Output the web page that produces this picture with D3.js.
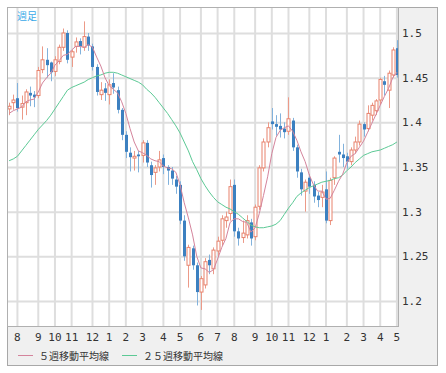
<!DOCTYPE html>
<html>
<head>
<meta charset="utf-8">
<script src="https://cdn.jsdelivr.net/npm/d3@7"></script>
<style>
  body { margin: 0; background: #fff; }
  text { font-family: "DejaVu Sans Mono", monospace; }
</style>
</head>
<body>
<div id="chart"></div>
<script>
// weekly candles
const opens = [
  1.415, 1.422, 1.427, 1.417, 1.422, 1.433, 1.431, 1.430, 1.459, 1.470,
  1.467, 1.457, 1.468, 1.484, 1.500, 1.473, 1.485, 1.491, 1.484, 1.496,
  1.485, 1.462, 1.431, 1.438, 1.431, 1.444, 1.436, 1.414, 1.386, 1.366,
  1.360, 1.364, 1.363, 1.377, 1.352, 1.344, 1.350, 1.360, 1.350, 1.346,
  1.336, 1.330, 1.290, 1.240, 1.259, 1.240, 1.210, 1.218, 1.246, 1.236,
  1.256, 1.268, 1.290, 1.298, 1.330, 1.278, 1.271, 1.274, 1.288, 1.272,
  1.306, 1.349, 1.378, 1.401, 1.398, 1.396, 1.393, 1.390, 1.402, 1.372,
  1.344, 1.323, 1.338, 1.330, 1.318, 1.316, 1.325, 1.290, 1.338, 1.367,
  1.364, 1.362, 1.356, 1.369, 1.378, 1.398, 1.393, 1.408, 1.413, 1.425,
  1.446, 1.436, 1.453, 1.483
];
const highs = [
  1.422, 1.431, 1.444, 1.430, 1.437, 1.440, 1.435, 1.462, 1.485, 1.483,
  1.468, 1.474, 1.487, 1.505, 1.503, 1.481, 1.495, 1.494, 1.513, 1.500,
  1.488, 1.465, 1.445, 1.444, 1.448, 1.455, 1.440, 1.416, 1.390, 1.372,
  1.368, 1.368, 1.380, 1.380, 1.356, 1.352, 1.368, 1.364, 1.352, 1.350,
  1.340, 1.334, 1.296, 1.263, 1.262, 1.243, 1.228, 1.248, 1.252, 1.260,
  1.272, 1.296, 1.300, 1.336, 1.336, 1.282, 1.290, 1.296, 1.292, 1.308,
  1.352, 1.382, 1.400, 1.416, 1.408, 1.410, 1.400, 1.428, 1.405, 1.375,
  1.348, 1.336, 1.342, 1.334, 1.322, 1.330, 1.345, 1.338, 1.362, 1.386,
  1.376, 1.366, 1.372, 1.384, 1.402, 1.400, 1.419, 1.422, 1.426, 1.450,
  1.452, 1.458, 1.484, 1.492
];
const lows = [
  1.408, 1.414, 1.412, 1.403, 1.408, 1.418, 1.417, 1.427, 1.455, 1.450,
  1.446, 1.452, 1.465, 1.480, 1.466, 1.462, 1.478, 1.476, 1.480, 1.480,
  1.458, 1.430, 1.425, 1.424, 1.420, 1.432, 1.410, 1.380, 1.360, 1.345,
  1.346, 1.344, 1.355, 1.350, 1.327, 1.330, 1.345, 1.342, 1.330, 1.330,
  1.320, 1.286, 1.245, 1.215, 1.235, 1.195, 1.190, 1.214, 1.230, 1.230,
  1.250, 1.262, 1.282, 1.290, 1.272, 1.262, 1.265, 1.270, 1.262, 1.268,
  1.302, 1.345, 1.372, 1.392, 1.385, 1.383, 1.382, 1.386, 1.368, 1.338,
  1.318, 1.300, 1.320, 1.310, 1.305, 1.305, 1.287, 1.285, 1.330, 1.355,
  1.350, 1.348, 1.352, 1.365, 1.374, 1.384, 1.390, 1.402, 1.408, 1.420,
  1.430, 1.416, 1.450, 1.450
];
const closes = [
  1.418, 1.425, 1.416, 1.421, 1.434, 1.430, 1.428, 1.458, 1.470, 1.464,
  1.456, 1.470, 1.484, 1.500, 1.470, 1.479, 1.490, 1.485, 1.496, 1.486,
  1.462, 1.434, 1.436, 1.433, 1.442, 1.439, 1.414, 1.386, 1.367, 1.361,
  1.362, 1.362, 1.377, 1.355, 1.341, 1.349, 1.358, 1.350, 1.346, 1.337,
  1.328, 1.290, 1.250, 1.260, 1.240, 1.210, 1.225, 1.244, 1.240, 1.257,
  1.267, 1.292, 1.294, 1.328, 1.278, 1.270, 1.276, 1.290, 1.270, 1.305,
  1.349, 1.378, 1.394, 1.398, 1.395, 1.392, 1.389, 1.404, 1.372, 1.345,
  1.325, 1.333, 1.328, 1.317, 1.313, 1.322, 1.290, 1.335, 1.360, 1.364,
  1.360, 1.356, 1.369, 1.378, 1.398, 1.392, 1.410, 1.419, 1.424, 1.448,
  1.442, 1.455, 1.481, 1.453
];

// 5-week and 25-week moving averages
const ma5 = [
  1.410, 1.413, 1.415, 1.417, 1.423, 1.425, 1.426, 1.434, 1.444, 1.450,
  1.455, 1.464, 1.469, 1.475, 1.476, 1.481, 1.485, 1.485, 1.484, 1.487,
  1.484, 1.473, 1.463, 1.450, 1.441, 1.437, 1.433, 1.423, 1.410, 1.393,
  1.378, 1.368, 1.366, 1.363, 1.359, 1.357, 1.356, 1.351, 1.349, 1.348,
  1.344, 1.330, 1.310, 1.293, 1.274, 1.250, 1.237, 1.236, 1.232, 1.235,
  1.247, 1.260, 1.270, 1.288, 1.292, 1.292, 1.289, 1.288, 1.277, 1.282,
  1.298, 1.318, 1.339, 1.365, 1.383, 1.391, 1.394, 1.396, 1.390, 1.380,
  1.367, 1.356, 1.341, 1.330, 1.323, 1.323, 1.314, 1.315, 1.324, 1.334,
  1.342, 1.355, 1.362, 1.365, 1.372, 1.379, 1.389, 1.399, 1.409, 1.419,
  1.429, 1.438, 1.450, 1.456
];
const ma25 = [
  1.357, 1.359, 1.362, 1.368, 1.374, 1.380, 1.386, 1.392, 1.397, 1.402,
  1.408, 1.415, 1.422, 1.429, 1.436, 1.439, 1.441, 1.443, 1.445, 1.448,
  1.450, 1.452, 1.453, 1.455, 1.456, 1.456, 1.455, 1.453, 1.451, 1.449,
  1.447, 1.445, 1.442, 1.437, 1.433, 1.428, 1.422, 1.416, 1.410, 1.403,
  1.396, 1.388, 1.378, 1.368, 1.356, 1.347, 1.337, 1.329, 1.322, 1.316,
  1.311, 1.308, 1.305, 1.303, 1.300, 1.297, 1.293, 1.289, 1.285, 1.283,
  1.282, 1.282, 1.283, 1.284, 1.286, 1.290, 1.297, 1.304, 1.310, 1.317,
  1.321, 1.324, 1.327, 1.329, 1.331, 1.333, 1.334, 1.335, 1.337, 1.338,
  1.341, 1.346, 1.350, 1.355, 1.359, 1.363, 1.365, 1.367, 1.368, 1.369,
  1.371, 1.373, 1.375, 1.378
];

// first week of each month and its label
const monthIdx = [2, 7, 11, 15, 20, 24, 28, 32, 37, 41, 46, 50, 54, 59, 63, 67, 72, 76, 81, 85, 89, 93];
const monthLabels = ["8", "9", "10", "11", "12", "1", "2", "3", "4", "5", "6", "7", "8", "9", "10", "11", "12", "1", "2", "3", "4", "5"];
const yTicks = [1.2, 1.25, 1.3, 1.35, 1.4, 1.45, 1.5];
const legendNames = ["５週移動平均線", "２５週移動平均線"];

const width = 446, height = 373;
const plot = { left: 7, top: 7, right: 399, bottom: 327 };

const svg = d3.select("#chart").append("svg")
  .attr("width", width)
  .attr("height", height);

// outer panel
svg.append("rect")
  .attr("x", 7.5).attr("y", 7.5)
  .attr("width", 430).attr("height", 358)
  .attr("fill", "#f0f0f0")
  .attr("stroke", "#a8a8a8");

svg.append("rect")
  .attr("x", plot.left).attr("y", plot.top)
  .attr("width", plot.right - plot.left).attr("height", plot.bottom - plot.top)
  .attr("fill", "#fff");

const weeks = d3.range(closes.length);
const x = d3.scaleBand().domain(weeks).range([plot.left, plot.right]).padding(0);
const cx = i => x(i) + x.bandwidth() / 2;
const y = d3.scaleLinear().domain([1.1709, 1.5291]).range([plot.bottom, plot.top]);

// grid
svg.append("g")
  .attr("transform", `translate(${plot.left},0)`)
  .call(d3.axisLeft(y).tickValues(yTicks).tickSize(-(plot.right - plot.left)).tickFormat(""))
  .call(g => g.select(".domain").remove())
  .call(g => g.selectAll("line").attr("stroke", "#dedede").attr("stroke-width", 2));

svg.append("g")
  .attr("transform", `translate(0,${plot.bottom})`)
  .call(d3.axisBottom(x).tickValues(monthIdx).tickSize(-(plot.bottom - plot.top)).tickFormat(""))
  .call(g => g.select(".domain").remove())
  .call(g => g.selectAll("line").attr("stroke", "#dedede").attr("stroke-width", 2));

// axis labels
svg.append("g")
  .attr("transform", `translate(${plot.right},0)`)
  .call(d3.axisRight(y).tickValues(yTicks).tickSize(0).tickPadding(3).tickFormat(d => String(+d.toFixed(2))))
  .call(g => g.select(".domain").remove())
  .call(g => g.selectAll("text").attr("fill", "#333").style("font-size", "11px").style("font-family", "'DejaVu Sans Mono', monospace"));

svg.append("g")
  .attr("transform", `translate(0,${plot.bottom})`)
  .call(d3.axisBottom(x).tickValues(monthIdx).tickSize(0).tickPadding(6).tickFormat((d, i) => monthLabels[i]))
  .call(g => g.select(".domain").remove())
  .call(g => g.selectAll("text").attr("fill", "#333").style("font-size", "11px").style("font-family", "'DejaVu Sans Mono', monospace"));

// candles
const upStroke = "#e8826c", upWick = "#ec9a88";
const downFill = "#3c80c0", downWick = "#82b2dc";
const bodyW = 3;

const candles = svg.append("g").selectAll("g")
  .data(weeks)
  .join("g");

candles.append("line")
  .attr("x1", i => Math.round(cx(i)) + 0.5)
  .attr("x2", i => Math.round(cx(i)) + 0.5)
  .attr("y1", i => y(highs[i]))
  .attr("y2", i => y(lows[i]))
  .attr("stroke", i => closes[i] >= opens[i] ? upWick : downWick)
  .attr("stroke-width", 1);

candles.append("rect")
  .attr("x", i => Math.round(cx(i)) - 1)
  .attr("y", i => y(Math.max(opens[i], closes[i])))
  .attr("width", bodyW)
  .attr("height", i => Math.max(1, Math.abs(y(opens[i]) - y(closes[i]))))
  .attr("fill", i => closes[i] >= opens[i] ? "#fff" : downFill)
  .attr("stroke", i => closes[i] >= opens[i] ? upStroke : "none")
  .attr("stroke-width", 1);

// moving averages
const line = arr => d3.line().x(i => cx(i)).y(i => y(arr[i]))(weeks);

svg.append("path")
  .attr("d", line(ma25))
  .attr("fill", "none")
  .attr("stroke", "#5cc995")
  .attr("stroke-width", 1);

svg.append("path")
  .attr("d", line(ma5))
  .attr("fill", "none")
  .attr("stroke", "#d4849c")
  .attr("stroke-width", 1);

// plot frame
svg.append("rect")
  .attr("x", plot.left + 0.5).attr("y", plot.top + 0.5)
  .attr("width", plot.right - plot.left - 1).attr("height", plot.bottom - plot.top - 1)
  .attr("fill", "none")
  .attr("stroke", "#b0b0b0");

svg.append("text")
  .attr("x", 17).attr("y", 20)
  .attr("fill", "#3aa8e8")
  .style("font-size", "10px")
  .style("font-family", "'Noto Sans CJK JP', sans-serif")
  .text("週足");

// legend
const legendColors = ["#d4849c", "#5cc995"];
const legendX = [18, 122];
legendNames.forEach((name, k) => {
  svg.append("line")
    .attr("x1", legendX[k]).attr("x2", legendX[k] + 15)
    .attr("y1", 355.5).attr("y2", 355.5)
    .attr("stroke", legendColors[k]);
  svg.append("text")
    .attr("x", legendX[k] + 21).attr("y", 360)
    .attr("fill", "#333")
    .style("font-size", "10px")
    .style("font-family", "'Noto Sans CJK JP', sans-serif")
    .text(name);
});
</script>
</body>
</html>
